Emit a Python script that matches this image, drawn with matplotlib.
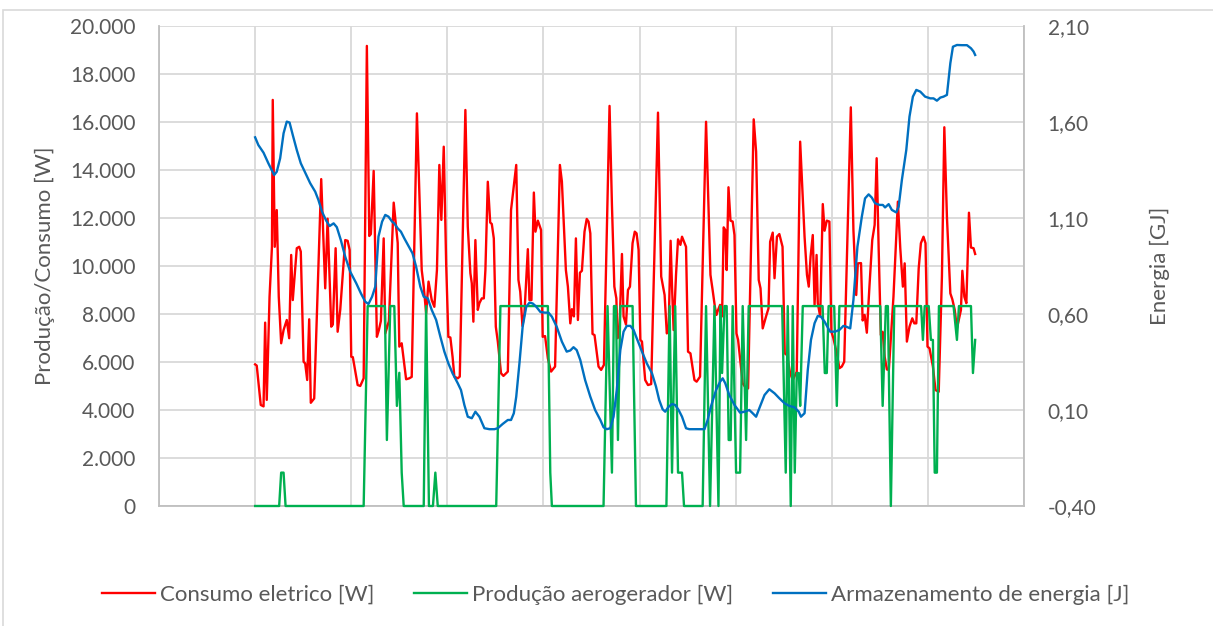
import matplotlib
matplotlib.use("Agg")
import matplotlib.pyplot as plt
from matplotlib.patches import Rectangle
from matplotlib.ticker import FuncFormatter

plt.rcParams['font.family'] = ['Lato', 'DejaVu Sans']

# horas de simulacao e consumo eletrico [W]
horas_consumo = [0, 0.4, 1.4, 2.1, 2.5, 2.9, 3.6, 4.2, 4.4, 4.9, 5.4, 5.9, 6.5, 7.1, 7.9, 8.5,
                 9.0, 9.4, 10.4, 11.0, 11.4, 12.1, 12.5, 13.0, 13.5, 13.9, 14.75, 16.5, 17.5,
                 18.1, 19.0, 19.4, 20.1, 20.6, 21.25, 22.5, 23.1, 23.6, 24.0, 24.4, 25.6, 26.25,
                 27.1, 27.9, 28.5, 28.9, 29.6, 30.4, 30.9, 31.4, 32.1, 32.5, 33.4, 34.6, 35.1,
                 35.6, 36.0, 36.6, 37.7, 38.5, 39.1, 40.4, 41.6, 42.1, 42.7, 43.3, 44.1, 44.75,
                 45.4, 46.0, 46.5, 47.1, 47.7, 48.25, 48.75, 49.3, 49.75, 50.6, 51.1, 52.5,
                 53.1, 53.75, 54.1, 54.5, 55.0, 55.6, 56.0, 56.6, 57.1, 57.5, 58.1, 58.7, 59.1,
                 59.6, 60.1, 60.6, 61.4, 62.0, 63.1, 63.9, 65.2, 65.75, 66.2, 66.75, 67.25,
                 68.1, 68.5, 69.0, 69.6, 70.0, 70.6, 71.4, 71.8, 72.4, 73.1, 73.9, 74.9, 76.1,
                 76.6, 77.6, 78.1, 78.7, 79.1, 79.6, 80.1, 80.6, 81.1, 81.6, 82.25, 82.8,
                 83.25, 83.7, 84.25, 84.75, 85.75, 86.4, 87.1, 88.5, 89.1, 89.7, 90.2, 90.5,
                 91.0, 91.6, 92.0, 92.6, 93.1, 93.6, 94.25, 94.8, 95.25, 95.75, 96.2, 96.6,
                 97.4, 98.1, 98.9, 99.5, 100.6, 101.4, 102.25, 102.8, 103.25, 103.75, 104.1,
                 104.5, 105.1, 105.6, 106.2, 106.6, 107.6, 108.1, 108.7, 109.7, 110.25, 111.1,
                 112.6, 113.7, 114.25, 114.8, 115.2, 115.6, 116.1, 116.6, 117.0, 117.4,
                 117.75, 118.2, 118.7, 119.25, 119.7, 120.2, 120.6, 121.1, 121.75, 122.6,
                 123.1, 124.5, 125.1, 125.75, 126.2, 126.75, 127.6, 128.2, 128.6, 129.25,
                 129.7, 130.3, 130.9, 131.7, 132.25, 132.8, 133.6, 134.25, 135.25, 136.1,
                 137.2, 137.8, 138.25, 138.7, 139.25, 139.7, 140.2, 140.5, 141.1, 141.75,
                 142.2, 142.75, 143.4, 143.9, 144.4, 145.25, 145.9, 146.5, 147.1, 148.75,
                 149.4, 150.1, 150.5, 151.3, 151.7, 152.2, 152.75, 153.4, 154.1, 154.7,
                 155.2, 155.7, 156.25, 156.7, 157.2, 157.75, 158.25, 159.4, 160.5, 161.1,
                 161.75, 162.2, 162.75, 163.4, 164.1, 164.6, 165.1, 165.7, 166.25, 166.9,
                 167.4, 167.9, 168.4, 169.25, 169.9, 170.7, 171.5, 172.1, 172.75, 173.6,
                 174.1, 174.7, 175.25, 175.75, 176.25, 176.6, 177.1, 177.6, 178.25, 178.75,
                 179.4, 179.8]
consumo = [5900, 5850, 4210, 4150, 7640, 4420, 8720, 10800, 16920, 10800, 12330, 8720, 6780,
           7330, 7750, 6990, 10460, 8580, 10740, 10800, 10600, 6010, 5940, 5250, 7780, 4300,
           4480, 13620, 9070, 11970, 7470, 7560, 10740, 7260, 8170, 11080, 11050, 10670, 6220,
           6200, 5040, 5000, 5320, 19170, 11250, 11330, 13960, 7050, 7330, 7710, 11150, 7190,
           7700, 12640, 11800, 10960, 6640, 6780, 5280, 5320, 5380, 16360, 9830, 9140, 8030,
           9350, 8580, 8300, 9830, 14210, 11920, 14970, 10110, 7050, 7020, 6220, 5390, 5320,
           5390, 16500, 11640, 9700, 9280, 7680, 11080, 8170, 8450, 8650, 8650, 9830, 13510,
           11810, 11750, 11150, 7470, 6850, 5530, 5420, 5600, 12330, 14210, 9420, 8930, 7500,
           8030, 10700, 8580, 8580, 13060, 11430, 11890, 11500, 7050, 7080, 6150, 5600, 5810,
           14210, 13520, 9830, 9140, 7610, 8200, 7900, 11150, 7750, 9720, 9800, 11430, 11960,
           11850, 11360, 7170, 7120, 5810, 5670, 5880, 16670, 12540, 9140, 8650, 6990, 7470,
           10500, 7900, 7560, 9000, 9140, 10950, 11430, 11360, 10670, 6920, 6850, 5250, 5040,
           5080, 9140, 16390, 9560, 8790, 7190, 7330, 11050, 9140, 7330, 9630, 11110, 10880,
           11220, 10800, 6430, 6360, 5250, 5180, 5390, 16010, 9630, 8990, 8310, 7960, 8170,
           8380, 7900, 11610, 11500, 9830, 13280, 11890, 11850, 11290, 7190, 6920, 6150, 5110,
           4900, 4900, 16110, 14760, 9420, 9070, 7400, 7910, 8240, 11010, 11390, 9490, 11220,
           11330, 10800, 6360, 6290, 5530, 5250, 5600, 15180, 11220, 9630, 9140, 10390, 11290,
           8380, 10460, 8450, 7900, 12580, 11470, 11890, 11850, 7260, 6990, 6360, 5740, 5810,
           6010, 16610, 11500, 8790, 10110, 10120, 7730, 7960, 7220, 9140, 11080, 11710,
           14490, 10740, 7120, 7260, 6220, 5690, 5670, 8720, 12680, 10740, 9140, 10110, 6850,
           7470, 7820, 7610, 7610, 9900, 10950, 11220, 10950, 6640, 6570, 5810, 4830, 4760,
           9560, 15780, 12050, 8860, 8610, 8170, 7400, 7780, 8170, 9800, 8720, 8450, 12220,
           10770, 10740, 10500]

# producao do aerogerador [W]
horas_producao = [0, 6.0, 6.5, 7.1, 7.6, 27.1, 28.1, 32.4, 32.9, 33.75, 34.75, 35.4, 36.0,
                  36.6, 37.1, 42.1, 42.7, 43.4, 44.4, 45.0, 45.6, 60.2, 61.25, 73.1, 73.7,
                  74.1, 87.0, 88.0, 89.1, 89.6, 90.1, 90.6, 91.2, 94.25, 95.1, 102.7, 103.5,
                  104.1, 104.9, 105.6, 106.6, 107.1, 111.75, 112.6, 113.6, 114.7, 115.7, 116.2,
                  116.6, 117.2, 117.75, 118.25, 118.75, 119.25, 120.1, 121.1, 121.75, 122.6,
                  123.25, 131.6, 132.5, 133.0, 133.75, 134.25, 134.75, 135.25, 135.75, 136.1,
                  136.75, 141.7, 142.25, 142.75, 143.2, 144.6, 145.25, 145.9, 156.1, 156.7,
                  157.5, 158.0, 158.75, 159.6, 166.3, 166.75, 167.2, 168.2, 168.75, 169.25,
                  169.7, 170.25, 170.75, 174.4, 175.25, 175.75, 178.75, 179.25, 179.8]
producao = [0, 0, 1390, 1390, 0, 0, 8330, 8330, 2750, 8330, 8330, 4170, 5550, 1390, 0, 0,
            8330, 0, 0, 1390, 0, 0, 8330, 8330, 1390, 0, 0, 8330, 1390, 8330, 8330, 2750, 8330,
            8330, 0, 0, 8330, 1390, 8330, 1390, 1390, 0, 0, 8330, 0, 8330, 0, 8330, 5540,
            8330, 8330, 2750, 2750, 8330, 1390, 1390, 8330, 2750, 8330, 8330, 1390, 8330, 0,
            8330, 1390, 5540, 5540, 4170, 8330, 8330, 5540, 5540, 8330, 8330, 4170, 8330,
            8330, 4170, 8330, 8330, 0, 8330, 8330, 6920, 8330, 8330, 6920, 6920, 1390, 1390,
            8330, 8330, 6920, 8330, 8330, 5540, 6920]

# energia armazenada [GJ]
horas_armazenamento = [0, 0.8, 2.1, 3.3, 4.75, 5.4, 6.25, 7.1, 7.9, 8.6, 9.4, 10.4, 11.4,
                       12.5, 13.75, 15.0, 15.8, 16.7, 17.75, 18.6, 19.6, 20.4, 21.4, 22.5,
                       23.75, 25.25, 26.4, 27.5, 28.3, 29.2, 30.0, 30.8, 31.7, 32.5, 33.3,
                       34.2, 34.75, 35.6, 36.4, 37.25, 38.5, 39.3, 40.2, 41.25, 42.1, 43.1,
                       44.1, 45.2, 46.25, 47.25, 48.25, 49.3, 50.6, 51.4, 52.25, 53.1, 54.1,
                       55.0, 56.0, 57.25, 58.5, 59.75, 60.6, 61.8, 63.1, 63.9, 64.6, 65.2,
                       66.0, 66.8, 67.7, 68.5, 69.3, 70.2, 71.25, 72.4, 73.25, 74.1, 75.3,
                       76.6, 77.8, 78.7, 79.5, 80.3, 81.2, 82.4, 83.7, 84.9, 86.2, 87.0, 87.8,
                       88.7, 89.5, 90.3, 91.2, 92.0, 92.8, 93.7, 94.5, 95.3, 96.6, 97.8, 99.1,
                       100.1, 100.9, 101.75, 102.4, 103.25, 104.1, 104.9, 105.75, 106.6,
                       107.6, 108.4, 112.2, 113.0, 113.8, 115.1, 116.1, 116.75, 117.4, 118.4,
                       119.7, 121.1, 122.2, 123.4, 124.25, 125.1, 125.9, 127.2, 128.4, 129.7,
                       130.9, 132.2, 133.4, 134.7, 135.75, 136.3, 137.2, 138.0, 138.8, 139.7,
                       140.5, 141.3, 142.2, 143.25, 143.6, 144.8, 145.9, 146.9, 147.6, 148.6,
                       149.4, 150.4, 151.5, 152.3, 153.2, 154.0, 154.8, 155.9, 156.75, 157.3,
                       158.2, 159.0, 160.1, 160.7, 161.5, 162.6, 163.4, 164.25, 165.1, 166.1,
                       167.3, 168.6, 169.4, 170.25, 171.1, 171.9, 172.75, 173.6, 174.25,
                       175.25, 176.5, 177.75, 178.75, 179.4, 179.8]
armazenamento = [1.520, 1.480, 1.440, 1.385, 1.324, 1.341, 1.411, 1.541, 1.602, 1.597, 1.532,
                 1.454, 1.385, 1.336, 1.281, 1.237, 1.194, 1.133, 1.086, 1.058, 1.072, 1.052,
                 0.985, 0.898, 0.820, 0.760, 0.708, 0.664, 0.652, 0.690, 0.742, 1.003, 1.081,
                 1.116, 1.107, 1.081, 1.072, 1.046, 1.029, 0.994, 0.947, 0.916, 0.846, 0.742,
                 0.690, 0.682, 0.621, 0.569, 0.482, 0.404, 0.343, 0.291, 0.239, 0.204, 0.126,
                 0.065, 0.057, 0.091, 0.065, 0.005, 0.0, 0.0, 0.005, 0.027, 0.048, 0.048,
                 0.083, 0.169, 0.343, 0.534, 0.638, 0.659, 0.655, 0.638, 0.610, 0.607, 0.607,
                 0.586, 0.534, 0.456, 0.404, 0.410, 0.427, 0.412, 0.360, 0.256, 0.169, 0.100,
                 0.048, 0.010, 0.0, 0.005, 0.065, 0.204, 0.413, 0.508, 0.538, 0.538, 0.517,
                 0.473, 0.404, 0.343, 0.291, 0.222, 0.152, 0.104, 0.091, 0.117, 0.131, 0.126,
                 0.100, 0.065, 0.005, 0.0, 0.0, 0.048, 0.117, 0.204, 0.247, 0.265, 0.239,
                 0.178, 0.126, 0.086, 0.091, 0.100, 0.083, 0.065, 0.109, 0.178, 0.208, 0.187,
                 0.161, 0.135, 0.121, 0.114, 0.091, 0.065, 0.083, 0.308, 0.465, 0.552, 0.590,
                 0.586, 0.560, 0.520, 0.508, 0.508, 0.517, 0.538, 0.534, 0.525, 0.673, 0.950,
                 1.107, 1.202, 1.223, 1.206, 1.177, 1.168, 1.168, 1.155, 1.172, 1.142, 1.129,
                 1.159, 1.298, 1.454, 1.628, 1.732, 1.767, 1.758, 1.732, 1.723, 1.723, 1.711,
                 1.727, 1.732, 1.741, 1.906, 1.992, 2.001, 2.0, 2.0, 1.984, 1.967, 1.949]

cor_texto = '#595959'
cor_grade = '#D9D9D9'
cor_eixo = '#BFBFBF'

fig = plt.figure(figsize=(12.13, 6.26), dpi=100)
ax = fig.add_axes([0.1311, 0.1917, 0.7131, 0.7668])
ax2 = ax.twinx()

l1, = ax.plot(horas_consumo, consumo, color='#FF0000', lw=1.7, label='Consumo eletrico [W]')
l2, = ax.plot(horas_producao, producao, color='#00B050', lw=1.7, clip_on=False,
              label='Produção aerogerador [W]')
l3, = ax2.plot(horas_armazenamento, armazenamento, color='#0070C0', lw=1.7,
               label='Armazenamento de energia [J]')

ax.set_xlim(-24, 192)
ax.set_xticks(range(-24, 193, 24))
ax.set_xticklabels([])
ax.set_ylim(0, 20000)
ax.set_yticks(range(0, 20001, 2000))
ax.yaxis.set_major_formatter(FuncFormatter(lambda v, p: f'{int(v):,}'.replace(',', '.')))
ax2.set_ylim(-0.4, 2.1)
ax2.set_yticks([-0.4, 0.1, 0.6, 1.1, 1.6, 2.1])
ax2.yaxis.set_major_formatter(FuncFormatter(lambda v, p: f'{v:.2f}'.replace('.', ',')))

ax.grid(True, color=cor_grade, lw=1.3)
ax.set_axisbelow(True)
# eixos desenhados por baixo das curvas
for s in ('top', 'left', 'right', 'bottom'):
    ax2.spines[s].set_visible(False)
ax.spines['top'].set_visible(False)
for s in ('left', 'right', 'bottom'):
    ax.spines[s].set_color(cor_eixo)
    ax.spines[s].set_linewidth(1.3)
    ax.spines[s].set_zorder(1.5)
for a in (ax, ax2):
    a.tick_params(length=0, labelsize=15, colors=cor_texto)
    a.tick_params(axis='y', pad=17)

ax.set_ylabel('Produção/Consumo [W]', fontsize=16, color=cor_texto)
ax.yaxis.set_label_coords(-0.120, 0.5)
ax2.set_ylabel('Energia [GJ]', fontsize=16, color=cor_texto)
ax2.yaxis.set_label_coords(1.146, 0.5)

fig.legend(handles=[l1, l2, l3], loc='center', bbox_to_anchor=(0.5074, 0.05), ncol=3,
           frameon=False, fontsize=16, labelcolor=cor_texto, handlelength=2.4,
           handletextpad=0.2, columnspacing=1.8)

fig.patches.append(Rectangle((3 / 1213, -0.1), 1.2, 1.1 - 10 / 626, transform=fig.transFigure,
                             fill=False, ec=cor_grade, lw=1.2))

fig.savefig('out.png', dpi=100)
